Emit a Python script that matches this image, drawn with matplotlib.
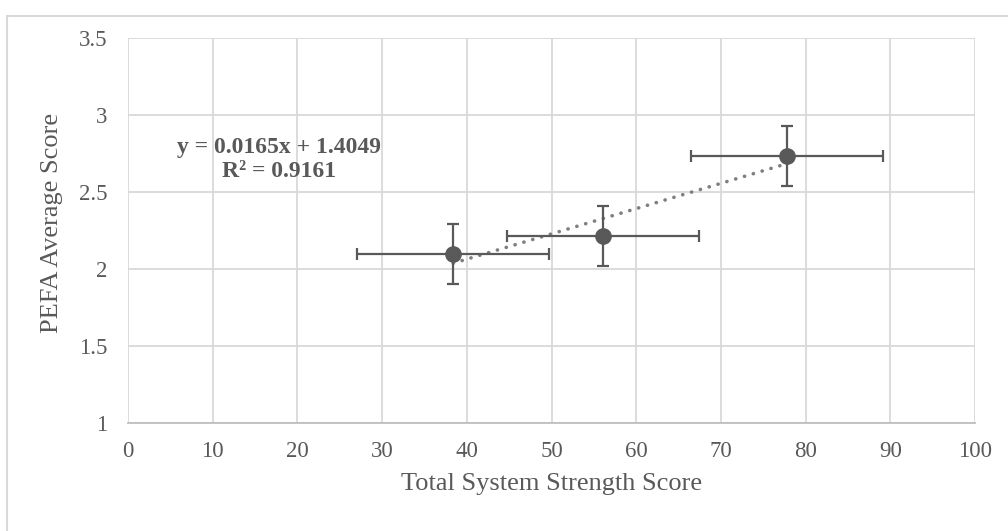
import numpy as np
import matplotlib
matplotlib.use("Agg")
import matplotlib.pyplot as plt
from matplotlib.patches import Rectangle

# data
strength = [38.4, 56.1, 77.8]
pefa = [2.10, 2.215, 2.735]
strength_err = [11.35, 11.35, 11.35]
pefa_err = [0.195, 0.195, 0.195]

x_ticks = [0, 10, 20, 30, 40, 50, 60, 70, 80, 90, 100]
y_ticks = [1, 1.5, 2, 2.5, 3, 3.5]
y_labels = ["1", "1.5", "2", "2.5", "3", "3.5"]
eq_text = "y = 0.0165x + 1.4049\nR² = 0.9161"

plt.rcParams['font.family'] = ['Liberation Serif', 'DejaVu Serif']

grey = "#595959"

fig = plt.figure(figsize=(10.08, 5.31), dpi=100)
ax = fig.add_axes([128/1008, 1 - 423/531, (975 - 128)/1008, (423 - 38)/531])

# chart border
fig.patches.append(Rectangle((7/1008, -0.01), 1.1, 1 - 16/531 + 0.01,
                             transform=fig.transFigure, fill=False,
                             edgecolor="#d9d9d9", lw=1.5))

ax.errorbar(strength, pefa, xerr=strength_err, yerr=pefa_err, fmt='o',
            color=grey, ecolor=grey, markersize=11, elinewidth=1.6,
            capsize=4.5, capthick=1.6, zorder=3)

m, c = np.polyfit(strength, pefa, 1)
xs = np.array([min(strength), max(strength)])
ax.plot(xs, m * xs + c, linestyle=(0, (0.05, 2.5)), color="#7f7f7f",
        lw=2.6, dash_capstyle='round', zorder=2)

ax.text(17.8, 2.71, eq_text, ha='center', va='center', fontsize=17,
        fontweight='bold', color=grey, linespacing=1.15)

ax.set_xlim(0, 100)
ax.set_ylim(1, 3.5)
ax.set_xticks(x_ticks)
ax.set_yticks(y_ticks)
ax.set_yticklabels(y_labels)
ax.grid(True, color="#d9d9d9", lw=1.3)
ax.set_axisbelow(True)
for s in ['top', 'right', 'left']:
    ax.spines[s].set_visible(False)
ax.spines['bottom'].set_color("#bfbfbf")
ax.spines['bottom'].set_linewidth(1.3)
ax.tick_params(length=0, labelsize=16.5, labelcolor=grey)
ax.tick_params(axis='x', pad=13)
ax.tick_params(axis='y', pad=15)

ax.set_xlabel("Total System Strength Score", fontsize=19, color=grey, labelpad=8)
ax.set_ylabel("PEFA Average Score", fontsize=19, color=grey)
ax.yaxis.set_label_coords(-0.077, 0.52)

fig.savefig("out.png", dpi=100)
